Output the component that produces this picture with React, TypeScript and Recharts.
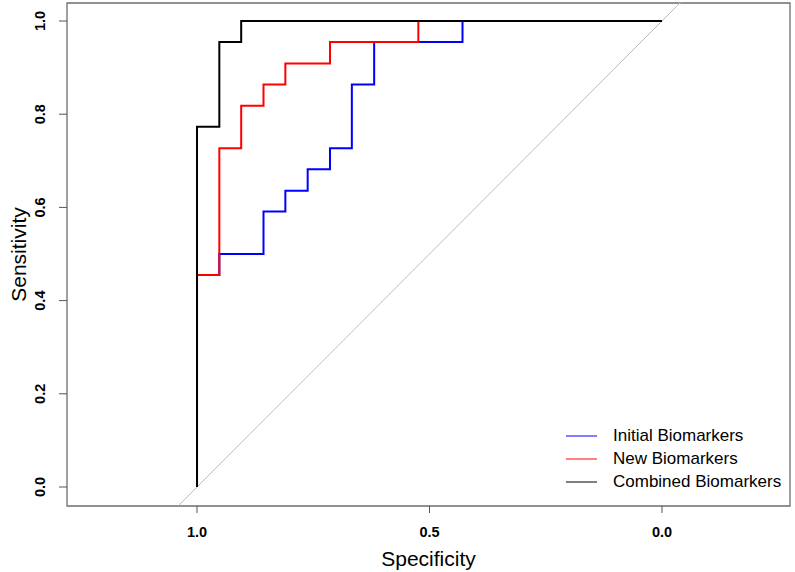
import React from 'react';
import { LineChart, Line, XAxis, YAxis, ReferenceLine, ReferenceArea, Label } from 'recharts';

// ROC corner points (specificity, sensitivity)
const initialSpec = [1, 1, 0.952, 0.952, 0.857, 0.857, 0.81, 0.81, 0.762, 0.762, 0.714, 0.714, 0.667, 0.667, 0.619, 0.619, 0.429, 0.429, 0];
const initialSens = [0, 0.455, 0.455, 0.5, 0.5, 0.591, 0.591, 0.636, 0.636, 0.682, 0.682, 0.727, 0.727, 0.864, 0.864, 0.955, 0.955, 1, 1];

const newSpec = [1, 1, 0.952, 0.952, 0.905, 0.905, 0.857, 0.857, 0.81, 0.81, 0.714, 0.714, 0.524, 0.524, 0];
const newSens = [0, 0.455, 0.455, 0.727, 0.727, 0.818, 0.818, 0.864, 0.864, 0.909, 0.909, 0.955, 0.955, 1, 1];

const combinedSpec = [1, 1, 0.952, 0.952, 0.905, 0.905, 0];
const combinedSens = [0, 0.773, 0.773, 0.955, 0.955, 1, 1];

const xTicks = [1, 0.5, 0];
const yTicks = [0, 0.2, 0.4, 0.6, 0.8, 1];
const xDomain = [-0.2753, 1.2796];
const yDomain = [-0.04077, 1.03863];

const toPoints = (spec: number[], sens: number[]) => spec.map((s, i) => ({ spec: s, sens: sens[i] }));

const series = [
  { name: 'Initial Biomarkers', color: '#0000ff', data: toPoints(initialSpec, initialSens) },
  { name: 'New Biomarkers', color: '#ff0000', data: toPoints(newSpec, newSens) },
  { name: 'Combined Biomarkers', color: '#000000', data: toPoints(combinedSpec, combinedSens) },
];

const FONT = '"Liberation Sans", Arial, sans-serif';

function YTick(props: any) {
  const { x, y, payload } = props;
  const tx = x - 17;
  return (
    <text
      x={tx}
      y={y}
      dy="0.35em"
      textAnchor="middle"
      transform={`rotate(-90, ${tx}, ${y})`}
      fontFamily={FONT}
      fontWeight="bold"
      fontSize={14.5}
      fill="#000"
    >
      {Number(payload.value).toFixed(1)}
    </text>
  );
}

function LegendBox() {
  return (
    <div style={{ position: 'absolute', left: 566, top: 424, fontFamily: FONT, fontSize: 17, color: '#000' }}>
      {series.map((s) => (
        <div key={s.name} style={{ display: 'flex', alignItems: 'center', height: 23.3 }}>
          <svg width={47} height={4} style={{ display: 'block' }}>
            <line x1={0} y1={2} x2={31} y2={2} stroke={s.color} strokeWidth={1} />
          </svg>
          <span style={{ lineHeight: '20px', whiteSpace: 'nowrap' }}>{s.name}</span>
        </div>
      ))}
    </div>
  );
}

export default function App() {
  return (
    <div style={{ position: 'absolute', left: 0, top: 0, width: 795, height: 572, background: '#fff' }}>
      <LineChart width={795} height={572} margin={{ top: 3, right: 5, left: 0, bottom: 0 }}>
        <ReferenceArea
          x1={xDomain[0]}
          x2={xDomain[1]}
          y1={yDomain[0]}
          y2={yDomain[1]}
          fill="none"
          stroke="#6e6e6e"
          strokeWidth={1.3}
        />
        <ReferenceLine
          segment={[
            { x: 1.04, y: -0.04 },
            { x: -0.04, y: 1.04 },
          ]}
          stroke="#bebebe"
          strokeWidth={1}
          ifOverflow="visible"
        />
        <XAxis
          dataKey="spec"
          type="number"
          domain={xDomain}
          reversed
          ticks={xTicks}
          tickFormatter={(v: number) => v.toFixed(1)}
          axisLine={false}
          tickSize={7}
          tickMargin={14}
          tickLine={{ stroke: '#555' }}
          tick={{ fontFamily: FONT, fontWeight: 'bold', fontSize: 14.5, fill: '#000' }}
          height={66}
          allowDataOverflow
        >
          <Label
            content={({ viewBox }: any) => (
              <text
                x={viewBox.x + viewBox.width / 2}
                y={566}
                textAnchor="middle"
                fontFamily={FONT}
                fontSize={21}
                fill="#000"
              >
                Specificity
              </text>
            )}
          />
        </XAxis>
        <YAxis
          dataKey="sens"
          type="number"
          domain={yDomain}
          ticks={yTicks}
          axisLine={false}
          tickSize={8}
          tickLine={{ stroke: '#555' }}
          tick={<YTick />}
          width={67}
          allowDataOverflow
        >
          <Label
            content={({ viewBox }: any) => {
              const cx = 26;
              const cy = viewBox.y + viewBox.height / 2;
              return (
                <text
                  x={cx}
                  y={cy}
                  textAnchor="middle"
                  transform={`rotate(-90, ${cx}, ${cy})`}
                  fontFamily={FONT}
                  fontSize={21}
                  fill="#000"
                >
                  Sensitivity
                </text>
              );
            }}
          />
        </YAxis>
        {series.map((s) => (
          <Line
            key={s.name}
            data={s.data}
            dataKey="sens"
            name={s.name}
            type="linear"
            stroke={s.color}
            strokeWidth={2}
            dot={false}
            activeDot={false}
            isAnimationActive={false}
          />
        ))}
      </LineChart>
      <LegendBox />
    </div>
  );
}
